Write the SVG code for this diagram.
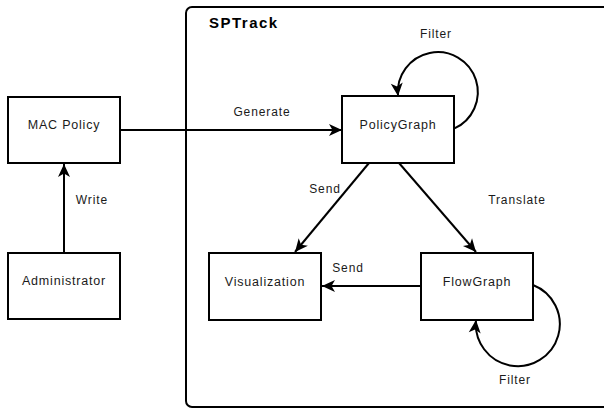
<svg xmlns="http://www.w3.org/2000/svg" width="604" height="408" viewBox="0 0 604 408">
  <style>
    .box { fill: #ffffff; stroke: #000000; stroke-width: 2; }
    .frame { fill: none; stroke: #000000; stroke-width: 2; }
    .edge { fill: none; stroke: #000000; stroke-width: 2; }
    .node-text { font-family: "Liberation Sans", Arial, sans-serif; font-size: 12.5px; letter-spacing: 0.8px; fill: #1a1a1a; text-anchor: middle; }
    .edge-text { font-family: "Liberation Sans", Arial, sans-serif; font-size: 12px; letter-spacing: 0.9px; fill: #1a1a1a; text-anchor: middle; }
    .title { font-family: "Liberation Sans", Arial, sans-serif; font-size: 15px; font-weight: bold; letter-spacing: 1.5px; fill: #000000; }
  </style>
  <defs>
    <marker id="arrow" markerUnits="userSpaceOnUse" markerWidth="16" markerHeight="14" viewBox="-14 -7 16 14" refX="0" refY="0" orient="auto">
      <path d="M0,0 L-13,-6 L-9.5,0 L-13,6 Z" fill="#000000"/>
    </marker>
  </defs>

  <rect width="604" height="408" fill="#ffffff"/>

  <!-- SPTrack container -->
  <g id="sptrack">
    <rect class="frame" x="186" y="7" width="440" height="400" rx="6" ry="6"/>
    <text class="title" x="209" y="28">SPTrack</text>
  </g>

  <!-- connectors -->
  <g id="connectors">
    <line class="edge" x1="120" y1="130" x2="342" y2="130" marker-end="url(#arrow)"/>
    <line class="edge" x1="64" y1="253" x2="64" y2="164" marker-end="url(#arrow)"/>
    <line class="edge" x1="369" y1="163" x2="295" y2="252" marker-end="url(#arrow)"/>
    <line class="edge" x1="399" y1="163" x2="476" y2="252" marker-end="url(#arrow)"/>
    <line class="edge" x1="421" y1="286" x2="322" y2="286" marker-end="url(#arrow)"/>
    <path class="edge" d="M454,128.7 A40,40 0 1 0 398,96" marker-end="url(#arrow)"/>
    <path class="edge" d="M533,285 A42,42 0 1 1 476,320" marker-end="url(#arrow)"/>

    <text class="edge-text" x="262" y="116">Generate</text>
    <text class="edge-text" x="92" y="204">Write</text>
    <text class="edge-text" x="325" y="193">Send</text>
    <text class="edge-text" x="517" y="204">Translate</text>
    <text class="edge-text" x="348" y="272">Send</text>
    <text class="edge-text" x="436" y="38">Filter</text>
    <text class="edge-text" x="515" y="384">Filter</text>
  </g>

  <g id="mac-policy">
    <rect class="box" x="8" y="97" width="112" height="66"/>
    <text class="node-text" x="64" y="129">MAC Policy</text>
  </g>

  <g id="administrator">
    <rect class="box" x="8" y="253" width="112" height="66"/>
    <text class="node-text" x="64" y="285">Administrator</text>
  </g>

  <g id="policy-graph">
    <rect class="box" x="342" y="96" width="112" height="67"/>
    <text class="node-text" x="398" y="129">PolicyGraph</text>
  </g>

  <g id="visualization">
    <rect class="box" x="209" y="253" width="112" height="67"/>
    <text class="node-text" x="265" y="286">Visualization</text>
  </g>

  <g id="flow-graph">
    <rect class="box" x="421" y="253" width="112" height="67"/>
    <text class="node-text" x="477" y="286">FlowGraph</text>
  </g>
</svg>
